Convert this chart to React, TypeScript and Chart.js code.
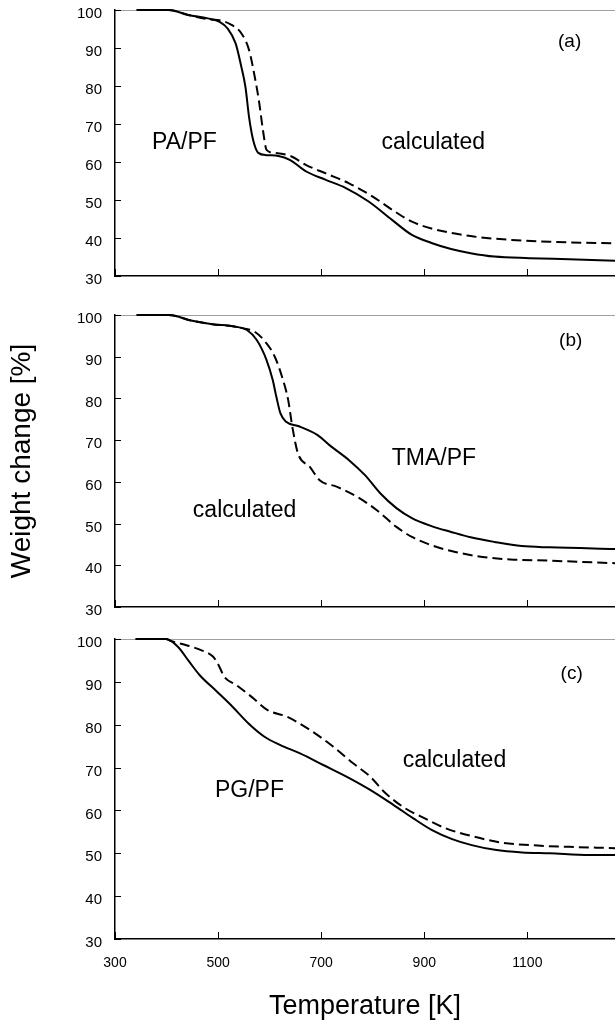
import React, { useEffect, useRef } from "react";
import { Chart, registerables } from "chart.js";

Chart.register(...registerables);

// ---- shared axis values ----
const xTickValues = [300, 500, 700, 900, 1100];
const xMin = 300;
const xMax = 1270;
const yMin = 30;
const yMax = 100;

// ---- panel (a) PA/PF ----
const aMeasuredT = [342, 404, 442, 480, 503, 518, 534, 545, 553, 560, 568, 578, 594, 617, 640, 671, 709, 747, 792, 838, 876, 914, 952, 990, 1036, 1104, 1181, 1271];
const aMeasuredW = [100, 100, 98.7, 97.8, 96.9, 95.2, 91.2, 85.1, 79.8, 71.9, 65.8, 62.4, 61.8, 61.6, 60.5, 57.5, 55.3, 53.2, 49.6, 44.7, 40.8, 38.7, 37.1, 36.0, 35.1, 34.7, 34.4, 34.0];
const aCalcT = [342, 404, 442, 486, 503, 526, 545, 560, 571, 579, 587, 594, 610, 640, 671, 709, 754, 800, 838, 876, 914, 990, 1067, 1143, 1271];
const aCalcW = [100, 100, 98.7, 97.5, 97.3, 96.1, 93.9, 89.5, 82.5, 76.3, 68.4, 63.2, 62.4, 61.6, 59.2, 57.0, 54.4, 50.9, 47.4, 44.3, 42.5, 40.5, 39.5, 39.0, 38.6];

// ---- panel (b) TMA/PF ----
const bMeasuredT = [342, 404, 450, 489, 534, 556, 575, 594, 606, 613, 621, 632, 655, 693, 716, 754, 785, 815, 846, 876, 914, 952, 990, 1036, 1089, 1143, 1271];
const bMeasuredW = [100, 100, 98.6, 97.8, 97.2, 96.4, 94.0, 89.2, 84.4, 80.4, 76.4, 74.4, 73.4, 71.2, 68.8, 65.2, 61.6, 57.2, 53.7, 51.3, 49.4, 48.0, 46.7, 45.6, 44.6, 44.3, 43.9];
const bCalcT = [342, 404, 450, 489, 534, 549, 571, 594, 610, 624, 636, 644, 655, 678, 697, 731, 770, 808, 846, 876, 914, 960, 1013, 1067, 1143, 1271];
const bCalcW = [100, 100, 98.6, 97.8, 97.2, 96.8, 96.0, 93.2, 90.0, 85.2, 79.6, 73.2, 66.8, 63.6, 60.4, 58.8, 56.4, 53.2, 49.2, 46.8, 44.8, 43.2, 42.0, 41.4, 41.1, 40.5];

// ---- panel (c) PG/PF ----
const cMeasuredT = [340, 399, 422, 444, 464, 498, 528, 559, 590, 620, 659, 704, 749, 795, 840, 878, 915, 954, 992, 1037, 1090, 1143, 1220, 1271];
const cMeasuredW = [100, 100, 98.2, 94.7, 91.6, 87.7, 84.2, 80.3, 77.2, 75.3, 73.3, 70.6, 67.9, 64.8, 61.3, 58.2, 55.4, 53.3, 51.9, 50.8, 50.2, 50.0, 49.6, 49.6];
const cCalcT = [340, 399, 407, 437, 467, 490, 501, 512, 535, 565, 596, 633, 678, 723, 762, 795, 825, 863, 900, 942, 996, 1050, 1120, 1181, 1271];
const cCalcW = [100, 100, 99.6, 98.6, 97.4, 95.9, 93.9, 91.2, 89.3, 86.5, 83.4, 81.9, 78.8, 74.9, 71.0, 67.9, 64.0, 60.5, 58.2, 55.8, 53.9, 52.5, 51.8, 51.5, 51.2];

const FONT = "'Liberation Sans', Arial, Helvetica, sans-serif";

type Label = { text: string; x: number; y: number; size: number; align: CanvasTextAlign; baseline: CanvasTextBaseline };

const pts = (t: number[], w: number[]) => t.map((v, i) => ({ x: v, y: w[i] }));

const frame = {
  id: "frame",
  beforeDatasetsDraw(chart: any) {
    const { ctx, chartArea } = chart;
    ctx.save();
    ctx.strokeStyle = "#a0a0a0";
    ctx.lineWidth = 1;
    ctx.beginPath();
    ctx.moveTo(chartArea.left, chartArea.top + 0.5);
    ctx.lineTo(chartArea.right, chartArea.top + 0.5);
    ctx.stroke();
    ctx.restore();
  },
  afterDraw(chart: any) {
    const { ctx, chartArea, scales } = chart;
    ctx.save();
    ctx.strokeStyle = "#000";
    ctx.lineWidth = 1;
    const ys = scales.y;
    ys.ticks.forEach((t: any) => {
      const py = Math.round(ys.getPixelForValue(t.value)) + 0.5;
      ctx.beginPath();
      ctx.moveTo(chartArea.left, py);
      ctx.lineTo(chartArea.left + 6, py);
      ctx.stroke();
    });
    const xs = scales.x;
    xs.ticks.forEach((t: any) => {
      const px = Math.round(xs.getPixelForValue(t.value)) + 0.5;
      ctx.beginPath();
      ctx.moveTo(px, chartArea.bottom);
      ctx.lineTo(px, chartArea.bottom - 7);
      ctx.stroke();
    });
    ctx.restore();
  },
};

const annotations = {
  id: "annotations",
  afterDatasetsDraw(chart: any, _args: any, opts: any) {
    const { ctx, scales } = chart;
    const labels: Label[] = opts.labels || [];
    ctx.save();
    ctx.fillStyle = "#000";
    labels.forEach((l) => {
      ctx.font = `${l.size}px ${FONT}`;
      ctx.textAlign = l.align;
      ctx.textBaseline = l.baseline;
      ctx.fillText(l.text, scales.x.getPixelForValue(l.x), scales.y.getPixelForValue(l.y));
    });
    ctx.restore();
  },
};

type PanelProps = {
  top: number;
  height: number;
  padTop: number;
  xAxisHeight: number;
  showXLabels: boolean;
  yTitle?: string;
  xTitle?: string;
  measured: { x: number; y: number }[];
  calc: { x: number; y: number }[];
  labels: Label[];
};

function Panel(p: PanelProps) {
  const ref = useRef<HTMLCanvasElement | null>(null);
  useEffect(() => {
    if (!ref.current) return;
    const chart = new Chart(ref.current, {
      type: "line",
      data: {
        datasets: [
          {
            data: p.measured,
            borderColor: "#000",
            borderWidth: 2,
            pointRadius: 0,
            cubicInterpolationMode: "monotone",
            fill: false,
            clip: 4,
          },
          {
            data: p.calc,
            borderColor: "#000",
            borderWidth: 2,
            borderDash: [10, 5],
            pointRadius: 0,
            cubicInterpolationMode: "monotone",
            fill: false,
            clip: 4,
          },
        ],
      },
      options: {
        animation: false,
        responsive: false,
        events: [],
        layout: { padding: { top: p.padTop, left: 0, right: 0, bottom: 0 } },
        plugins: {
          legend: { display: false },
          tooltip: { enabled: false },
          annotations: { labels: p.labels },
        } as any,
        scales: {
          x: {
            type: "linear",
            min: xMin,
            max: xMax,
            afterBuildTicks: (s: any) => {
              s.ticks = xTickValues.map((v) => ({ value: v }));
            },
            afterFit: (s: any) => {
              s.height = p.xAxisHeight;
              s.paddingLeft = 0;
              s.paddingRight = 0;
            },
            grid: { display: false, drawTicks: false },
            border: { display: true, color: "#000", width: 1.5 },
            ticks: {
              display: p.showXLabels,
              padding: 16,
              color: "#000",
              maxRotation: 0,
              autoSkip: false,
              font: { family: FONT, size: 14 },
              callback: (v: any) => String(v),
            },
            title: {
              display: !!p.xTitle,
              text: p.xTitle || "",
              color: "#000",
              font: { family: FONT, size: 27 },
              padding: { top: 0, bottom: 8 },
            },
          },
          y: {
            type: "linear",
            min: yMin,
            max: yMax,
            afterFit: (s: any) => {
              s.width = 115;
              s.paddingTop = 0;
              s.paddingBottom = 0;
            },
            grid: { display: false, drawTicks: false },
            border: { display: true, color: "#000", width: 1.5 },
            ticks: {
              stepSize: 10,
              padding: 13,
              labelOffset: 4,
              color: "#000",
              font: { family: FONT, size: 15 },
            },
            title: {
              display: !!p.yTitle,
              text: p.yTitle || "",
              color: "#000",
              font: { family: FONT, size: 28 },
              padding: { top: 5, bottom: 0 },
            },
          },
        },
      },
      plugins: [frame, annotations],
    } as any);
    return () => chart.destroy();
  }, []);
  return (
    <div style={{ position: "absolute", left: 0, top: p.top, width: 615, height: p.height }}>
      <canvas ref={ref} width={615} height={p.height} style={{ display: "block" }} />
    </div>
  );
}

const aLabels: Label[] = [
  { text: "PA/PF", x: 372, y: 63.4, size: 23, align: "left", baseline: "alphabetic" },
  { text: "calculated", x: 817, y: 63.4, size: 23, align: "left", baseline: "alphabetic" },
  { text: "(a)", x: 1182, y: 91.6, size: 19, align: "center", baseline: "middle" },
];
const bLabels: Label[] = [
  { text: "TMA/PF", x: 837, y: 64.0, size: 23, align: "left", baseline: "alphabetic" },
  { text: "calculated", x: 451, y: 51.6, size: 23, align: "left", baseline: "alphabetic" },
  { text: "(b)", x: 1184, y: 93.8, size: 19, align: "center", baseline: "middle" },
];
const cLabels: Label[] = [
  { text: "calculated", x: 858, y: 70.1, size: 23, align: "left", baseline: "alphabetic" },
  { text: "PG/PF", x: 494, y: 63.1, size: 23, align: "left", baseline: "alphabetic" },
  { text: "(c)", x: 1186, y: 91.8, size: 19, align: "center", baseline: "middle" },
];

export default function App() {
  return (
    <div style={{ position: "absolute", left: 0, top: 0, width: 615, height: 1031, background: "#fff", overflow: "hidden" }}>
      <Panel top={0} height={290} padTop={10} xAxisHeight={14} showXLabels={false}
        measured={pts(aMeasuredT, aMeasuredW)} calc={pts(aCalcT, aCalcW)} labels={aLabels} />
      <Panel top={300} height={315} padTop={15} xAxisHeight={8} showXLabels={false}
        yTitle="Weight change [%]"
        measured={pts(bMeasuredT, bMeasuredW)} calc={pts(bCalcT, bCalcW)} labels={bLabels} />
      <Panel top={625} height={406} padTop={14} xAxisHeight={92} showXLabels={true}
        xTitle="Temperature [K]"
        measured={pts(cMeasuredT, cMeasuredW)} calc={pts(cCalcT, cCalcW)} labels={cLabels} />
    </div>
  );
}
